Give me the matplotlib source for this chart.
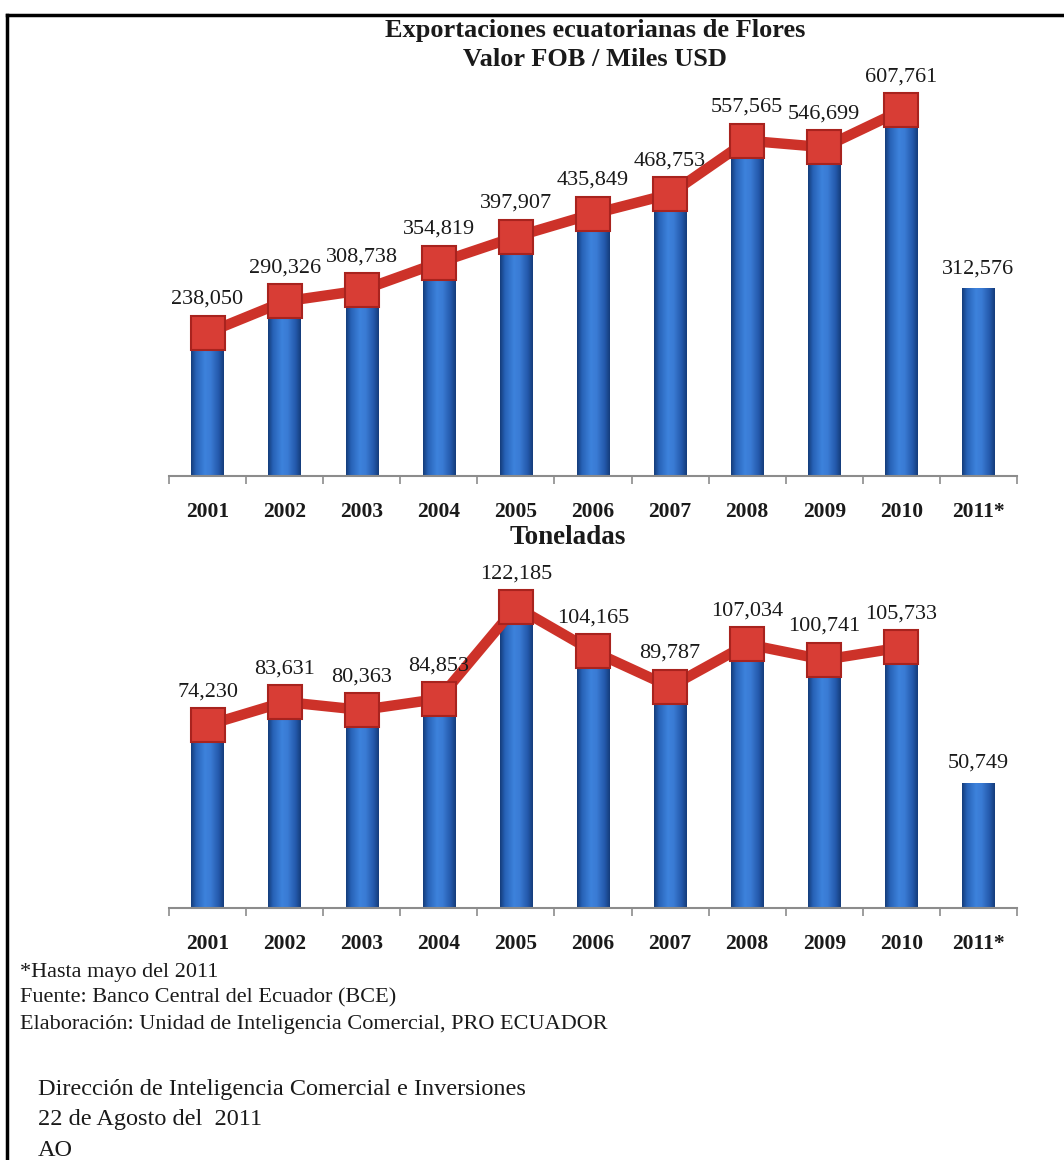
import numpy as np
import matplotlib
matplotlib.use('Agg')
import matplotlib.pyplot as plt
from matplotlib.colors import LinearSegmentedColormap
from matplotlib.lines import Line2D

years = ['2001', '2002', '2003', '2004', '2005', '2006', '2007', '2008', '2009', '2010', '2011*']
fob_values = [238050, 290326, 308738, 354819, 397907, 435849, 468753, 557565, 546699, 607761, 312576]
ton_values = [74230, 83631, 80363, 84853, 122185, 104165, 89787, 107034, 100741, 105733, 50749]
n_line = 10  # line/markers cover 2001-2010 only

title_lines = ['Exportaciones ecuatorianas de Flores', 'Valor FOB / Miles USD']
subtitle = 'Toneladas'
notes = ['*Hasta mayo del 2011',
         'Fuente: Banco Central del Ecuador (BCE)',
         'Elaboración: Unidad de Inteligencia Comercial, PRO ECUADOR']
credits = ['Dirección de Inteligencia Comercial e Inversiones',
           '22 de Agosto del  2011',
           'AO']

plt.rcParams['font.family'] = ['Liberation Serif', 'DejaVu Serif']

W, H = 1064, 1160
fig = plt.figure(figsize=(W / 100, H / 100), dpi=100)
fig.patch.set_facecolor('white')

bar_cmap = LinearSegmentedColormap.from_list(
    'cyl', [(0.0, '#143C7A'), (0.15, '#2762B6'), (0.42, '#3D82DC'),
            (0.6, '#3A7BD4'), (0.85, '#2358AA'), (1.0, '#143C7A')])
grad = np.linspace(0, 1, 128).reshape(1, -1)


def draw_panel(ax, values, ymax):
    x = np.arange(len(values))
    bars = ax.bar(x, values, width=0.42, color='none', edgecolor='none', zorder=2)
    for b in bars:
        x0, y0, w, h = b.get_x(), b.get_y(), b.get_width(), b.get_height()
        im = ax.imshow(grad, extent=[x0, x0 + w, y0, y0 + h], aspect='auto',
                       cmap=bar_cmap, zorder=2, interpolation='bilinear')
        im.set_clip_path(b)
    ax.plot(x[:n_line], values[:n_line], color='#CD3229', lw=7.5, zorder=3,
            solid_joinstyle='round')
    ax.plot(x[:n_line], values[:n_line], 's', ms=24.5, mfc='#D83D35', mec='#A8231E',
            mew=1.5, zorder=4)
    for i, v in enumerate(values):
        off = 24 if i < n_line else 14
        ax.annotate(f'{v:,}', (i, v), xytext=(0, off), textcoords='offset points',
                    ha='center', va='center', fontsize=16, color='#1a1a1a', zorder=5)
    ax.set_xlim(-0.5, len(values) - 0.5)
    ax.set_ylim(0, ymax)
    for s in ['left', 'right', 'top']:
        ax.spines[s].set_visible(False)
    ax.spines['bottom'].set_color('#8c8c8c')
    ax.spines['bottom'].set_linewidth(1.5)
    ax.set_yticks([])
    ax.set_xticks(x)
    ax.set_xticklabels(years, fontweight='bold', fontsize=15.5, color='#1a1a1a')
    ax.set_xticks(np.arange(len(values) + 1) - 0.5, minor=True)
    ax.tick_params(axis='x', which='major', length=0, pad=19)
    ax.tick_params(axis='x', which='minor', length=6, width=1.2, color='#8c8c8c',
                   direction='out')
    ax.patch.set_alpha(0)


ax1 = fig.add_axes([169 / W, (H - 476) / H, 848 / W, 421 / H])
draw_panel(ax1, fob_values, 700000)
ax2 = fig.add_axes([169 / W, (H - 908) / H, 848 / W, 345 / H])
draw_panel(ax2, ton_values, 140000)

fig.text(595 / W, 1 - 31 / H, title_lines[0], ha='center', va='center',
         fontsize=19, fontweight='bold', color='#1a1a1a')
fig.text(595 / W, 1 - 59 / H, title_lines[1], ha='center', va='center',
         fontsize=19, fontweight='bold', color='#1a1a1a')
fig.text(568 / W, 1 - 538 / H, subtitle, ha='center', va='center',
         fontsize=19.5, fontweight='bold', color='#1a1a1a')

for k, t in enumerate(notes):
    fig.text(20 / W, 1 - (972 + 26 * k) / H, t, ha='left', va='center',
             fontsize=16, color='#1a1a1a')
for k, t in enumerate(credits):
    fig.text(38 / W, 1 - (1090 + 30 * k) / H, t, ha='left', va='center',
             fontsize=17.5, color='#1a1a1a')

fig.add_artist(Line2D([7 / W, 7 / W], [0, 1 - 15 / H], transform=fig.transFigure,
                      color='black', lw=2.5))
fig.add_artist(Line2D([7 / W, 1], [1 - 15 / H, 1 - 15 / H], transform=fig.transFigure,
                      color='black', lw=2.5))

fig.savefig('out.png', dpi=100)
